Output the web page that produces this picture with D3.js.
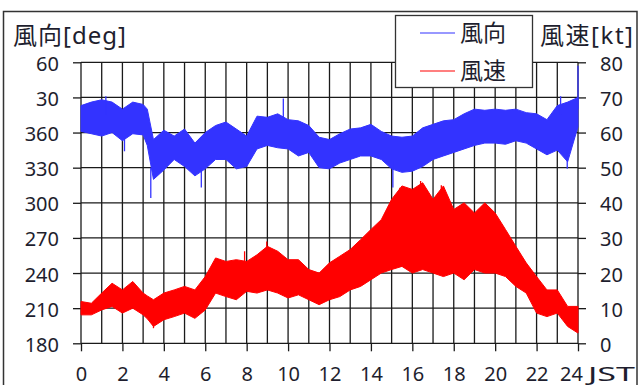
<!DOCTYPE html>
<html><head><meta charset="utf-8">
<script src="https://cdn.jsdelivr.net/npm/d3@7"></script>
<style>
html,body{margin:0;padding:0;background:#fff;}
svg{display:block;}
text{font-family:"Noto Sans","Noto Sans CJK JP",sans-serif;}
</style></head>
<body>
<svg id="c" width="643" height="385"></svg>
<script>
// ---- data ----
const hours = [0,0.5,1,1.5,2,2.5,3,3.2,3.5,4,4.5,5,5.5,6,6.5,7,7.5,8,8.5,9,9.5,10,10.5,11,11.5,12,
  12.5,13,13.5,14,14.5,15,15.5,16,16.5,17,17.5,18,18.5,19,19.5,20,20.5,21,21.5,22,22.5,23,23.5,24];
// wind direction envelope, continuous degrees (390 = 30, 420 = 60)
const dirHi = [383,386,388,386,380,386,384,380,354,362,357,363,351,360,366,369,363,357,374,373,376,371,370,366,356,354,
  359,363,364,367,361,357,356,357,364,367,370,371,376,380,379,380,379,380,377,376,371,383,386,390];
const dirLo = [361,359,357,360,353,359,358,349,320,328,337,331,323,329,337,337,329,331,346,349,347,346,340,343,330,329,
  334,337,340,340,337,329,326,327,331,337,340,343,346,349,351,351,350,353,351,346,341,345,335,365];
// wind speed envelope [kt]
const spdHi = [11.9,11.4,14.3,17.1,15.2,17.6,14.3,13.5,12.4,14.3,15.2,16.2,15.2,19,24.3,23.3,23.8,23.3,25.2,27.6,26.2,23.8,23.8,21,20,22.9,
  24.8,26.7,29.5,32.4,35.2,41,44.8,43.8,45.7,41,44.8,38.1,40,37.1,40,37.1,32.4,27.6,22.9,19,15.2,15.2,10.5,10.5];
const spdLo = [8.1,8.1,9.5,10.5,8.6,10,8.1,7,4.8,6.7,7.6,8.6,7.1,9.5,14.3,13.3,12.4,14.8,14.3,15.2,14.3,12.9,13.8,12.4,11,12.4,
  13.3,15.2,16.2,18.1,20,21,21.9,20,21,20,19,20,18.1,21,20,20,19,16.2,14.3,8.6,7.6,8.6,4.8,2.9];
// isolated spikes: time, base value, tip value
const dirSpikeT    = [1.2, 2.1, 3.37, 5.81, 9.77, 15.06, 23.16, 23.48, 24];
const dirSpikeBase = [375, 355, 330, 330, 370, 335, 375, 345, 380];
const dirSpikeTip  = [391, 344, 304, 313, 389, 313, 391, 329, 417];
const spdSpikeT    = [3.5, 7.9, 8.97, 15.4, 16.4, 17.4];
const spdSpikeBase = [8, 22, 25, 40, 42, 40];
const spdSpikeTip  = [4.3, 26.2, 29, 44.3, 46.2, 45];
// axes
const dirTicks  = [180,210,240,270,300,330,360,390,420];
const dirLabels = ["180","210","240","270","300","330","360","30","60"];
const spdTicks  = [0,10,20,30,40,50,60,70,80];
const hourTicks = [0,2,4,6,8,10,12,14,16,18,20,22,24];
const hourGrid  = d3.range(0,25);
const legendNames = ["風向","風速"];
const colors = ["#3333ff","#ff0000"];

// ---- drawing ----
const svg = d3.select("#c");
const X0=81, X1=578, YT=62.3, YB=343.3;
const x = d3.scaleLinear([0,24],[X0,X1]);
const yDir = d3.scaleLinear([180,420],[YB,YT]);
const ySpd = d3.scaleLinear([0,80],[YB,YT]);
const ink = "#1e1e2e", grid="#1a1a1a";

// outer frame
svg.append("rect").attr("x",3.5).attr("y",11.5).attr("width",633.5).attr("height",390)
  .attr("fill","none").attr("stroke","#333").attr("stroke-width",1.5);

// grid
const g = svg.append("g");
g.selectAll("line.h").data(dirTicks).join("line")
  .attr("x1",X0).attr("x2",X1).attr("y1",d=>yDir(d)).attr("y2",d=>yDir(d))
  .attr("stroke",grid).attr("stroke-width",1.3);
g.selectAll("line.v").data(hourGrid).join("line")
  .attr("x1",d=>x(d)).attr("x2",d=>x(d)).attr("y1",YT).attr("y2",YB)
  .attr("stroke",grid).attr("stroke-width",1.3);

function styleAxis(sel){
  sel.select(".domain").remove();
  sel.selectAll(".tick line").attr("stroke",grid).attr("stroke-width",1.3);
  sel.selectAll("text").attr("fill",ink).style("font-size","20px")
    .attr("font-family",null);
}
const axL = svg.append("g").attr("transform",`translate(${X0},0)`)
  .call(d3.axisLeft(yDir).tickValues(dirTicks).tickFormat((d,i)=>dirLabels[i]).tickSize(8).tickPadding(14));
styleAxis(axL); axL.selectAll("text").attr("dy","0.4em");
const axR = svg.append("g").attr("transform",`translate(${X1},0)`)
  .call(d3.axisRight(ySpd).tickValues(spdTicks).tickSize(8).tickPadding(14));
styleAxis(axR); axR.selectAll("text").attr("dy","0.4em");
const axB = svg.append("g").attr("transform",`translate(0,${YB})`)
  .call(d3.axisBottom(x).tickValues(hourTicks).tickSize(8).tickPadding(10));
styleAxis(axB);
axB.selectAll("text").attr("dy",null).attr("y",37.5)
  .attr("x",d=>d===24?-7:0);

// series
const dirArea = d3.area().x((d,i)=>x(hours[i])).y0((d,i)=>yDir(dirLo[i])).y1((d,i)=>yDir(dirHi[i]));
const spdArea = d3.area().x((d,i)=>x(hours[i])).y0((d,i)=>ySpd(spdLo[i])).y1((d,i)=>ySpd(spdHi[i]));
svg.append("path").datum(hours).attr("d",dirArea).attr("fill",colors[0]).attr("stroke",colors[0]).attr("stroke-width",1);
svg.append("path").datum(hours).attr("d",spdArea).attr("fill",colors[1]).attr("stroke",colors[1]).attr("stroke-width",1);
svg.append("g").selectAll("line").data(dirSpikeT).join("line")
  .attr("x1",d=>x(d)).attr("x2",d=>x(d)).attr("y1",(d,i)=>yDir(dirSpikeBase[i])).attr("y2",(d,i)=>yDir(dirSpikeTip[i]))
  .attr("stroke",colors[0]).attr("stroke-width",1.3);
svg.append("g").selectAll("line").data(spdSpikeT).join("line")
  .attr("x1",d=>x(d)).attr("x2",d=>x(d)).attr("y1",(d,i)=>ySpd(spdSpikeBase[i])).attr("y2",(d,i)=>ySpd(spdSpikeTip[i]))
  .attr("stroke",colors[1]).attr("stroke-width",1.3);

// titles
svg.append("text").attr("x",13).attr("y",44).attr("fill",ink).style("font-size","24px")
  .attr("textLength",113).text("風向[deg]");
svg.append("text").attr("x",540).attr("y",44).attr("fill",ink).style("font-size","24px")
  .attr("textLength",93).text("風速[kt]");
svg.append("text").attr("x",588).attr("y",380.8).attr("fill",ink).style("font-size","20px")
  .attr("textLength",47).attr("lengthAdjust","spacingAndGlyphs").text("JST");

// legend
const lg = svg.append("g");
lg.append("rect").attr("x",395.5).attr("y",15.5).attr("width",137).attr("height",72)
  .attr("fill","#fff").attr("stroke","#333").attr("stroke-width",1.3);
const ly = [33,71];
lg.selectAll("line").data(legendNames).join("line")
  .attr("x1",420).attr("x2",455).attr("y1",(d,i)=>ly[i]).attr("y2",(d,i)=>ly[i])
  .attr("stroke",(d,i)=>colors[i]).attr("stroke-width",1.2);
lg.selectAll("text").data(legendNames).join("text")
  .attr("x",460).attr("y",(d,i)=>ly[i]+8).attr("fill",ink).style("font-size","23px").text(d=>d);
</script>
</body></html>
